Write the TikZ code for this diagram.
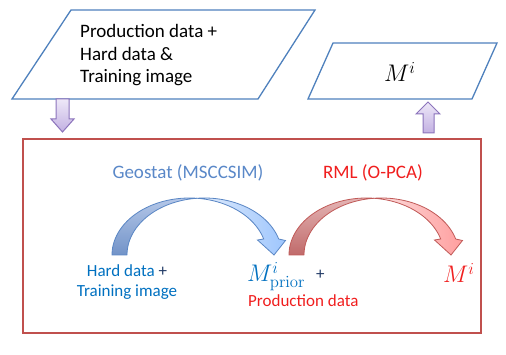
\documentclass[tikz,border=0pt]{standalone}
\RequirePackage{fix-cm}
\usepackage[no-math]{fontspec}
\setmainfont{Carlito}
\definecolor{pblue}{HTML}{4F81BD}
\definecolor{rbox}{HTML}{C0504D}
\definecolor{geoblue}{HTML}{5A88C8}
\definecolor{tblue}{HTML}{0070C0}
\definecolor{navy}{HTML}{1F3864}
\definecolor{tred}{HTML}{F01E1E}
\definecolor{arrtop}{HTML}{EEE8F8}
\definecolor{arrbot}{HTML}{C2B0E2}
\definecolor{arredge}{HTML}{8C74BC}
\definecolor{bback}{HTML}{7293C8}
\definecolor{bbacktop}{HTML}{B4C7E8}
\definecolor{bfront}{HTML}{E2ECFB}
\definecolor{bfrontend}{HTML}{9EC6FD}
\definecolor{bedge}{HTML}{5A86C4}
\definecolor{rback}{HTML}{C06A6A}
\definecolor{rbacktop}{HTML}{E4B4B4}
\definecolor{rfront}{HTML}{FBE0E0}
\definecolor{rfrontend}{HTML}{FF9E9E}
\definecolor{redge}{HTML}{C05A58}
\begin{document}
\begin{tikzpicture}[x=1pt,y=-1pt,
  para/.style={draw=pblue, line width=1.3pt, fill=white, line join=miter},
  redframe/.style={draw=rbox, line width=1.3pt},
  blockarrow/.style={draw=arredge, line width=1pt, top color=arrtop, bottom color=arrbot, line join=miter},
  bigtext/.style={inner sep=0pt, font=\fontsize{19}{22.5}\selectfont},
  smalltext/.style={inner sep=0pt, font=\fontsize{17}{20}\selectfont},
  mathtext/.style={inner sep=0pt, font=\fontsize{24}{28}\selectfont},
  backface/.style={line width=0.8pt, line join=round},
  frontface/.style={line width=0.8pt, line join=miter},
]
\useasboundingbox (0,0) rectangle (506,355);

% input parallelogram
\draw[para] (71,10) -- (315,10) -- (258,99) -- (12,99) -- cycle;
\node[bigtext, anchor=base west, align=left] (inputs) at (80,83)
  {Production data +\\Hard data \&\\Training image};
\coordinate (inbot) at (62.5,99);

% output parallelogram
\draw[para] (333,43) -- (497,43) -- (472,99) -- (308,99) -- cycle;
\node[mathtext, anchor=base west] (mout) at (384,82) {$M^{i}$};
\coordinate (outbot) at (428,99);

% red frame
\draw[redframe] (23,139) rectangle (481,333);

% down block arrow
\draw[blockarrow] ([xshift=-6.5pt]inbot) -- ++(0,20) -- ++(-5,0) -- (62.5,132) -- (74,119) -- (69,119) -- ([xshift=6.5pt]inbot) -- cycle;
% up block arrow
\draw[blockarrow] (423,133) -- (423,114) -- (416,114) -- (428,102) -- (440,114) -- (434,114) -- (434,133) -- cycle;

% curved arrows
\foreach \sh/\bk/\bkt/\fr/\fre/\ed in {0/bback/bbacktop/bfront/bfrontend/bedge, 177/rback/rbacktop/rfront/rfrontend/redge}{
\begin{scope}[shift={(\sh,0)}]
  \draw[backface, draw=\ed, top color=\bkt, bottom color=\bk]
    plot[domain=180:275.56, samples=40] ({189.4+77.4*cos(\x)},{255+57*sin(\x)})
    -- plot[domain=264.44:180, samples=40] ({204.4+77.4*cos(\x)},{255+57*sin(\x)}) -- cycle;
  \draw[frontface, draw=\ed, left color=\fr, right color=\fre]
    plot[domain=275.56:343.7, samples=40] ({189.4+77.4*cos(\x)},{255+57*sin(\x)})
    -- (257.5,240) -- (274,255) -- (285.5,240.5)
    -- plot[domain=343.7:264.44, samples=40] ({204.4+77.4*cos(\x)},{255+57*sin(\x)}) -- cycle;
\end{scope}
}

% labels
\node[bigtext, anchor=base, text=geoblue] (geo) at (188,179) {Geostat (MSCCSIM)};
\node[bigtext, anchor=base, text=tred] (rml) at (373,179) {RML (O-PCA)};
\node[smalltext, anchor=base, align=center] (hard) at (127,297)
  {\textcolor{tblue}{Hard data} \textcolor{navy}{+}\\\textcolor{tblue}{Training image}};
\node[mathtext, anchor=base west, text=tblue] (mprior) at (247,282) {$M^{i}_{\mathrm{prior}}$};
\node[smalltext, anchor=base west, text=navy] (plus) at (316,280) {+};
\node[smalltext, anchor=base west, text=tred] (prod) at (248,307) {Production data};
\node[mathtext, anchor=base west, text=tred] (mpost) at (443,283) {$M^{i}$};
\end{tikzpicture}
\end{document}
